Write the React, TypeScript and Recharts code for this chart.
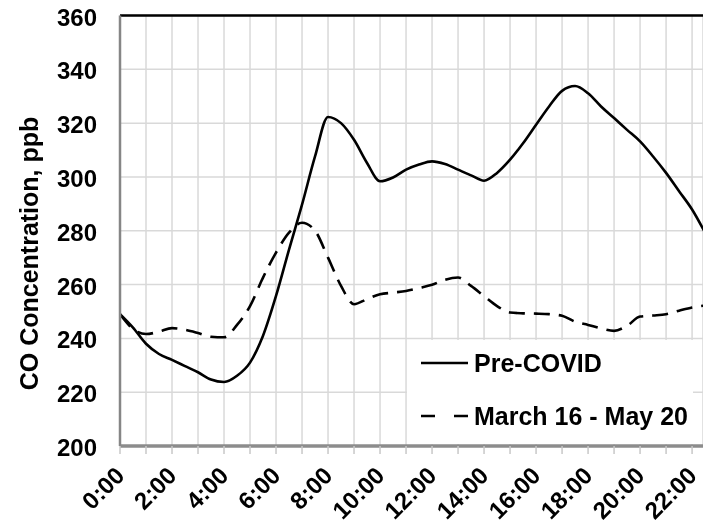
import React from "react";
import {
  LineChart,
  Line,
  XAxis,
  YAxis,
  CartesianGrid,
  ReferenceLine,
  Legend,
} from "recharts";

const hours = [
  0, 0.5, 1, 1.5, 2, 2.5, 3, 3.5, 4, 4.5, 5, 5.5, 6, 6.5, 7, 7.5, 8, 8.5, 9,
  9.5, 10, 10.5, 11, 11.5, 12, 12.5, 13, 13.5, 14, 14.5, 15, 15.5, 16, 16.5,
  17, 17.5, 18, 18.5, 19, 19.5, 20, 20.5, 21, 21.5, 22, 22.5,
];

const preCovid = [
  249, 244, 238, 234.2, 232, 229.7, 227.4, 224.7, 223.8, 226.1, 231, 241,
  255.8, 273, 289.7, 307.6, 322.3, 320, 313.8, 305.2, 298.4, 299.8, 302.7,
  304.6, 305.8, 304.8, 302.7, 300.6, 298.6, 301.5, 306.4, 312.5, 319.4, 326.2,
  332, 333.8, 331.1, 326.2, 321.9, 317.5, 313.2, 307.6, 301.5, 294.7, 287.9,
  279.3,
];

const lockdown = [
  249, 243.5, 241.6, 242.5, 243.8, 243.2, 242, 240.6, 240.4, 245, 252, 262.6,
  271.9, 279.3, 283, 280, 270, 259.5, 252.7, 254.6, 256.4, 257, 257.6, 258.7,
  259.9, 261.8, 262.6, 259.5, 255.7, 252, 249.6, 249.3, 249.2, 249, 248.4,
  246.2, 245, 243.7, 242.8, 244.7, 248.1, 248.5, 249, 250.3, 251.5, 252.2,
];

const xTicks = [
  0, 1, 2, 3, 4, 5, 6, 7, 8, 9, 10, 11, 12, 13, 14, 15, 16, 17, 18, 19, 20, 21,
  22,
];
const yTicks = [200, 220, 240, 260, 280, 300, 320, 340, 360];

const data = hours.map((h, i) => ({
  h,
  pre: preCovid[i],
  lock: lockdown[i],
}));

const FONT = "'Liberation Sans', Arial, sans-serif";

function XTick(props: any) {
  const { x, y, payload } = props;
  if (payload.value % 2 !== 0) return null;
  const tx = x + 6;
  const ty = y + 23;
  return (
    <text
      x={tx}
      y={ty}
      textAnchor="end"
      transform={`rotate(-45, ${tx}, ${ty})`}
      fontFamily={FONT}
      fontWeight="bold"
      fontSize={24}
      fill="#000"
    >
      {`${payload.value}:00`}
    </text>
  );
}

function YTick(props: any) {
  const { x, y, payload } = props;
  return (
    <text
      x={x}
      y={y + 1.5}
      dy="0.355em"
      textAnchor="end"
      fontFamily={FONT}
      fontWeight="bold"
      fontSize={24}
      fill="#000"
    >
      {payload.value}
    </text>
  );
}

function LegendBox() {
  const row = (dash: string | undefined, label: string, top: number) => (
    <div
      style={{
        position: "absolute",
        left: 14,
        top,
        height: 26,
        display: "flex",
        alignItems: "center",
      }}
    >
      <svg width={48} height={6} style={{ marginRight: 5 }}>
        <line
          x1={0}
          y1={3}
          x2={47}
          y2={3}
          stroke="#000"
          strokeWidth={2.5}
          strokeDasharray={dash}
        />
      </svg>
      <span
        style={{
          fontFamily: FONT,
          fontWeight: "bold",
          fontSize: 25,
          color: "#000",
          whiteSpace: "nowrap",
        }}
      >
        {label}
      </span>
    </div>
  );
  return (
    <div
      style={{
        position: "relative",
        width: 286,
        height: 104,
        background: "#fff",
      }}
    >
      {row(undefined, "Pre-COVID", 10)}
      {row("14 19", "March 16 - May 20", 63)}
    </div>
  );
}

export default function App() {
  return (
    <div style={{ position: "fixed", left: 8, top: 8, width: 695, height: 516 }}>
      <LineChart
        width={695}
        height={516}
        data={data}
        margin={{ top: 7.5, right: 0, bottom: 0, left: 0 }}
      >
        <CartesianGrid stroke="#d9d9d9" strokeWidth={1.5} />
        <XAxis
          dataKey="h"
          type="number"
          domain={[0, 22.42]}
          allowDataOverflow
          ticks={xTicks}
          interval={0}
          height={78}
          tick={<XTick />}
          tickSize={8}
          tickMargin={0}
          tickLine={{ stroke: "#c8c8c8", strokeWidth: 1.5 }}
          axisLine={{ stroke: "#8c8c8c", strokeWidth: 3.5 }}
        />
        <YAxis
          type="number"
          domain={[200, 360]}
          ticks={yTicks}
          interval={0}
          width={112}
          tickLine={false}
          tickSize={0}
          tickMargin={23}
          tick={<YTick />}
          axisLine={{ stroke: "#868686", strokeWidth: 2.5 }}
          label={() => (
            <text
              x={30}
              y={245.5}
              transform="rotate(-90, 30, 245.5)"
              textAnchor="middle"
              fontFamily={FONT}
              fontWeight="bold"
              fontSize={25}
              fill="#000"
            >
              CO Concentration, ppb
            </text>
          )}
        />
        <ReferenceLine y={360} stroke="#000" strokeWidth={2.5} />
        <Line
          type="monotone"
          dataKey="pre"
          stroke="#000"
          strokeWidth={2.6}
          dot={false}
          isAnimationActive={false}
        />
        <Line
          type="monotone"
          dataKey="lock"
          stroke="#000"
          strokeWidth={2.6}
          strokeDasharray="16 9"
          dot={false}
          isAnimationActive={false}
        />
        <Legend
          layout="horizontal"
          verticalAlign="middle"
          align="center"
          content={() => <LegendBox />}
          wrapperStyle={{
            position: "absolute",
            left: 399,
            top: 332,
            width: 286,
            height: 104,
          }}
        />
      </LineChart>
    </div>
  );
}
